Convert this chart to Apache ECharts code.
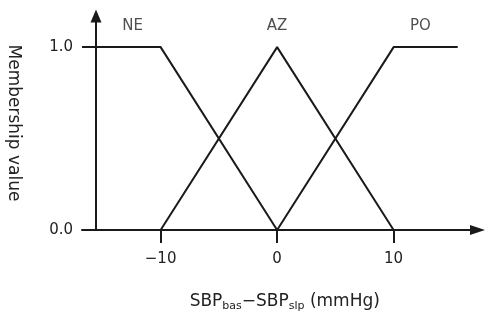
<!DOCTYPE html>
<html>
<head>
    <meta charset="UTF-8">
    <title>Membership functions</title>
    <script src="https://cdn.jsdelivr.net/npm/echarts/dist/echarts.min.js"></script>
    <style>
        html, body { margin: 0; padding: 0; background: #fff; }
        #chart { width: 490px; height: 318px; }
    </style>
</head>
<body>
<div id="chart"></div>
<script>
    // membership functions (x in mmHg, y = membership value)
    const neX = [-16.75, -10, 0];
    const neY = [1, 1, 0];
    const azX = [-10, 0, 10];
    const azY = [0, 1, 0];
    const poX = [0, 10, 15.5];
    const poY = [0, 1, 1];

    // set labels above the curves
    const setNames = ['NE', 'AZ', 'PO'];
    const setNameX = [-12.4, 0, 12.3];
    const setNameY = [1.115, 1.115, 1.115];

    const xTicks = [-10, 0, 10];
    const yTicks = [0, 1];

    const font = 'DejaVu Sans';
    const ink = '#1a1a1a';

    function pairs(xs, ys) {
        return xs.map((x, i) => [x, ys[i]]);
    }

    const chart = echarts.init(document.getElementById('chart'));
    const lineStyle = { color: ink, width: 2 };

    chart.setOption({
        animation: false,
        grid: { left: 82, right: 12.5, top: 16, bottom: 88, outerBoundsMode: 'none' },
        xAxis: {
            type: 'value',
            min: -16.75,
            max: 17.2,
            splitLine: { show: false },
            axisLine: {
                onZero: false,
                symbol: ['none', 'triangle'],
                symbolSize: [10, 15],
                lineStyle: { color: ink, width: 2 }
            },
            axisTick: {
                customValues: xTicks,
                length: 13,
                lineStyle: { color: ink, width: 2 }
            },
            axisLabel: {
                customValues: xTicks,
                margin: 22,
                fontFamily: font,
                fontSize: 15,
                color: '#222',
                formatter: v => (v < 0 ? '\u2212' + Math.abs(v) : String(v))
            },
            name: '{m|SBP}{s|bas}{m|\u2212SBP}{s|slp}{m| (mmHg)}',
            nameLocation: 'middle',
            nameGap: 62,
            nameTextStyle: {
                padding: [0, 0, 0, 10],
                rich: {
                    m: { fontFamily: font, fontSize: 17, color: '#222', lineHeight: 20 },
                    s: { fontFamily: font, fontSize: 11, color: '#222', lineHeight: 10, verticalAlign: 'bottom' }
                }
            }
        },
        yAxis: {
            type: 'value',
            min: 0,
            max: 1.17,
            offset: -14,
            splitLine: { show: false },
            axisLine: {
                show: true,
                onZero: false,
                symbol: ['none', 'triangle'],
                symbolSize: [11, 13],
                lineStyle: { color: ink, width: 2 }
            },
            axisTick: { show: false },
            axisLabel: {
                customValues: yTicks,
                margin: 23,
                fontFamily: font,
                fontSize: 15,
                color: '#222',
                formatter: v => v.toFixed(1)
            },
            name: 'Membership value',
            nameLocation: 'middle',
            nameRotate: -90,
            nameGap: 74,
            nameTextStyle: { fontFamily: font, fontSize: 17, color: '#222' }
        },
        series: [
            { type: 'line', data: pairs(neX, neY), symbol: 'none', lineStyle: lineStyle },
            { type: 'line', data: pairs(azX, azY), symbol: 'none', lineStyle: lineStyle },
            { type: 'line', data: pairs(poX, poY), symbol: 'none', lineStyle: lineStyle },
            {
                type: 'scatter',
                symbolSize: 0,
                data: setNames.map((n, i) => ({ name: n, value: [setNameX[i], setNameY[i]] })),
                label: {
                    show: true,
                    position: 'inside',
                    formatter: p => p.name,
                    fontFamily: font,
                    fontSize: 15,
                    color: '#222'
                }
            }
        ]
    });
</script>
</body>
</html>
